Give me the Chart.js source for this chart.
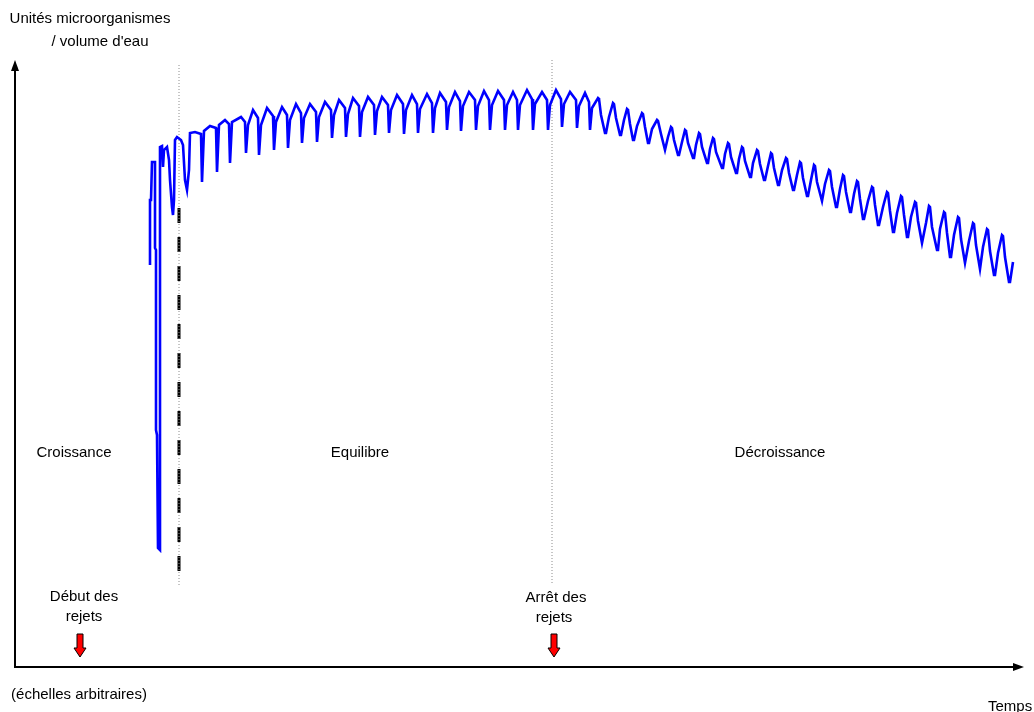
<!DOCTYPE html>
<html>
<head>
<meta charset="utf-8">
<script src="https://cdn.jsdelivr.net/npm/chart.js@4.4.0/dist/chart.umd.min.js"></script>
<style>
html, body { margin: 0; padding: 0; background: #fff; }
#wrap { width: 1034px; height: 712px; position: relative; }
</style>
</head>
<body>
<div id="wrap"><canvas id="chart"></canvas></div>
<script>
// arbitrary units: time 0..100, level 0..61
// start-up transient after the discharge begins
const growthPts = [
    [13.5, 40.2], [13.5, 46.7], [13.6, 46.7], [13.7, 50.5], [14.0, 50.5], [14.0, 41.9],
    [14.1, 41.7], [14.1, 23.7], [14.2, 23.2], [14.3, 11.9], [14.5, 11.7], [14.5, 52.0],
    [14.7, 52.1], [14.8, 50.0], [14.9, 51.7], [15.2, 52.0], [15.4, 50.7], [15.5, 48.7],
    [15.7, 46.0], [15.8, 45.2], [15.9, 46.7], [16.0, 52.7], [16.2, 53.0], [16.6, 52.7],
    [16.8, 52.2], [17.0, 48.7], [17.2, 47.7], [17.4, 49.7], [17.5, 53.4]
];

// one line per daily cycle: peak, shoulder, trough, rebound
const equilibriumPts = [
    [18.0, 53.5], [18.6, 53.3], [18.7, 48.5], [18.9, 53.6],
    [19.5, 54.1], [20.1, 53.9], [20.2, 49.5], [20.4, 54.2],
    [21.0, 54.7], [21.4, 54.3], [21.5, 50.4], [21.7, 54.5],
    [22.6, 55.0], [23.0, 54.5], [23.1, 51.4], [23.3, 54.2],
    [23.8, 55.7], [24.3, 54.9], [24.4, 51.2], [24.6, 54.2],
    [25.2, 55.9], [25.8, 55.1], [25.9, 51.7], [26.1, 54.5],
    [26.7, 56.0], [27.2, 55.2], [27.3, 51.9], [27.5, 54.7],
    [28.1, 56.3], [28.6, 55.4], [28.7, 52.4], [28.9, 54.9],
    [29.5, 56.3], [30.1, 55.5], [30.2, 52.5], [30.4, 55.0],
    [31.0, 56.5], [31.6, 55.7], [31.7, 52.9], [31.9, 55.2],
    [32.4, 56.7], [33.0, 55.9], [33.1, 53.0], [33.3, 55.3],
    [33.8, 56.9], [34.4, 56.1], [34.5, 53.0], [34.7, 55.5],
    [35.3, 57.0], [35.9, 56.2], [36.0, 53.2], [36.2, 55.6],
    [36.7, 57.0], [37.3, 56.2], [37.4, 53.4], [37.6, 55.7],
    [38.2, 57.2], [38.8, 56.3], [38.9, 53.3], [39.1, 55.7],
    [39.7, 57.2], [40.2, 56.3], [40.3, 53.4], [40.5, 55.8],
    [41.2, 57.3], [41.7, 56.4], [41.8, 53.4], [42.0, 55.9],
    [42.5, 57.4], [43.1, 56.5], [43.2, 53.7], [43.4, 56.0],
    [44.0, 57.5], [44.5, 56.6], [44.6, 53.6], [44.8, 56.1],
    [45.4, 57.5], [46.0, 56.7], [46.1, 53.7], [46.3, 56.1],
    [46.9, 57.6], [47.4, 56.7], [47.5, 53.7], [47.7, 56.2],
    [48.3, 57.6], [48.9, 56.7], [49.0, 53.7], [49.2, 56.2],
    [49.8, 57.5], [50.2, 56.7], [50.3, 53.7], [50.5, 56.2],
    [51.2, 57.7], [51.7, 56.8], [51.8, 53.7], [52.0, 56.3],
    [52.7, 57.5], [53.2, 56.7], [53.3, 53.7], [53.5, 56.2],
    [54.1, 57.7], [54.6, 56.8], [54.7, 54.0], [54.9, 56.3],
    [55.5, 57.5], [56.1, 56.7], [56.2, 53.9], [56.4, 56.1],
    [57.0, 57.4], [57.4, 56.5], [57.5, 53.7], [57.7, 55.9]
];

// one line per cycle: peak, peak end, mid descent, trough, trough end, mid rise
const declinePts = [
    [58.3, 56.9], [58.4, 56.8], [58.6, 55.2], [59.0, 53.4], [59.1, 53.4], [59.4, 55.0],
    [59.8, 56.4], [59.9, 56.3], [60.1, 54.9], [60.5, 53.2], [60.6, 53.2], [60.9, 54.7],
    [61.2, 55.8], [61.3, 55.7], [61.5, 54.3], [61.8, 52.7], [61.9, 52.7], [62.2, 54.1],
    [62.7, 55.4], [62.8, 55.3], [63.0, 54.0], [63.3, 52.4], [63.4, 52.4], [63.7, 53.8],
    [64.2, 54.7], [64.3, 54.6], [64.6, 53.3], [65.0, 51.7], [65.1, 51.7], [65.3, 53.0],
    [65.6, 54.0], [65.7, 53.9], [65.9, 52.7], [66.3, 51.2], [66.4, 51.2], [66.7, 52.5],
    [67.0, 53.7], [67.1, 53.6], [67.3, 52.4], [67.8, 50.9], [67.9, 50.9], [68.1, 52.2],
    [68.4, 53.4], [68.5, 53.3], [68.7, 52.0], [69.2, 50.4], [69.3, 50.4], [69.5, 51.8],
    [69.8, 52.9], [69.9, 52.8], [70.1, 51.5], [70.7, 49.9], [70.8, 49.9], [71.0, 51.3],
    [71.3, 52.4], [71.4, 52.3], [71.6, 51.0], [72.1, 49.4], [72.2, 49.4], [72.4, 50.8],
    [72.7, 52.0], [72.8, 51.9], [73.0, 50.6], [73.5, 49.0], [73.6, 49.0], [73.8, 50.4],
    [74.2, 51.7], [74.3, 51.6], [74.5, 50.3], [74.9, 48.7], [75.0, 48.7], [75.3, 50.1],
    [75.6, 51.4], [75.7, 51.3], [75.9, 49.9], [76.3, 48.2], [76.4, 48.2], [76.7, 49.7],
    [77.1, 50.9], [77.2, 50.8], [77.4, 49.4], [77.8, 47.7], [77.9, 47.7], [78.2, 49.2],
    [78.5, 50.5], [78.6, 50.4], [78.8, 48.9], [79.2, 47.1], [79.3, 47.1], [79.6, 48.7],
    [79.9, 50.2], [80.0, 50.1], [80.2, 48.5], [80.7, 46.6], [80.8, 46.6], [81.0, 48.3],
    [81.4, 49.7], [81.5, 49.6], [81.7, 48.0], [82.1, 46.0], [82.2, 46.0], [82.5, 47.8],
    [82.8, 49.2], [82.9, 49.1], [83.1, 47.5], [83.5, 45.5], [83.6, 45.5], [83.9, 47.3],
    [84.2, 48.6], [84.3, 48.5], [84.5, 46.8], [84.8, 44.8], [84.9, 44.8], [85.3, 46.6],
    [85.7, 48.0], [85.8, 47.9], [86.0, 46.2], [86.3, 44.2], [86.4, 44.2], [86.8, 46.0],
    [87.2, 47.5], [87.3, 47.4], [87.5, 45.6], [87.8, 43.5], [87.9, 43.5], [88.2, 45.4],
    [88.6, 47.1], [88.7, 47.0], [88.9, 45.2], [89.2, 43.0], [89.3, 43.0], [89.6, 45.0],
    [90.0, 46.5], [90.1, 46.4], [90.3, 44.6], [90.7, 42.4], [90.8, 42.4], [91.1, 44.4],
    [91.4, 46.1], [91.5, 46.0], [91.7, 44.0], [92.2, 41.7], [92.3, 41.7], [92.5, 43.8],
    [92.9, 45.5], [93.0, 45.4], [93.2, 43.4], [93.5, 41.0], [93.6, 41.0], [93.9, 43.2],
    [94.3, 45.0], [94.4, 44.9], [94.6, 42.8], [95.0, 40.4], [95.1, 40.4], [95.4, 42.6],
    [95.8, 44.4], [95.9, 44.3], [96.1, 42.2], [96.5, 39.8], [96.6, 39.8], [96.8, 42.0],
    [97.2, 43.8], [97.3, 43.7], [97.5, 41.6], [97.9, 39.2], [98.0, 39.2], [98.3, 41.4],
    [98.7, 43.2], [98.8, 43.1], [99.0, 41.0], [99.4, 38.5], [99.5, 38.5], [99.8, 40.5]
];

const phaseNames = ['Croissance', 'Equilibre', 'Décroissance'];
const phaseLimits = [16.4, 53.7];      // start of equilibrium, end of discharge
const dischargeStart = 6.5;
const dischargeStop = 53.9;

const toXY = pts => pts.map(p => ({ x: p[0], y: p[1] }));
const curve = toXY(growthPts.concat(equilibriumPts, declinePts));

function downArrow(ctx, cx, top, bottom) {
    const shaft = 3, head = 6, headH = 9;
    ctx.beginPath();
    ctx.moveTo(cx - shaft, top);
    ctx.lineTo(cx + shaft, top);
    ctx.lineTo(cx + shaft, bottom - headH);
    ctx.lineTo(cx + head, bottom - headH);
    ctx.lineTo(cx, bottom);
    ctx.lineTo(cx - head, bottom - headH);
    ctx.lineTo(cx - shaft, bottom - headH);
    ctx.closePath();
    ctx.fillStyle = '#ff0000';
    ctx.fill();
    ctx.lineWidth = 1;
    ctx.strokeStyle = '#000';
    ctx.stroke();
}

const annotate = {
    id: 'annotate',
    afterDraw(chart) {
        const ctx = chart.ctx;
        const xs = chart.scales.x, ys = chart.scales.y;
        const x0 = xs.getPixelForValue(0);
        const y0 = ys.getPixelForValue(0);
        ctx.save();

        // axes with arrow heads
        ctx.strokeStyle = '#000';
        ctx.fillStyle = '#000';
        ctx.lineWidth = 2;
        ctx.beginPath();
        ctx.moveTo(x0, y0 + 1);
        ctx.lineTo(x0, 70);
        ctx.moveTo(x0 - 1, y0);
        ctx.lineTo(1014, y0);
        ctx.stroke();
        ctx.beginPath();
        ctx.moveTo(x0, 60);
        ctx.lineTo(x0 + 4, 71);
        ctx.lineTo(x0 - 4, 71);
        ctx.closePath();
        ctx.fill();
        ctx.beginPath();
        ctx.moveTo(1024, y0);
        ctx.lineTo(1013, y0 - 4);
        ctx.lineTo(1013, y0 + 4);
        ctx.closePath();
        ctx.fill();

        // texts
        ctx.font = '15px "Liberation Sans", Arial, sans-serif';
        ctx.textAlign = 'center';
        ctx.textBaseline = 'middle';
        ctx.fillStyle = '#000';
        ctx.fillText('Unités microorganismes', 90, 19);
        ctx.fillText('/ volume d\'eau', 100, 42);
        ctx.fillText(phaseNames[0], 74, 453);
        ctx.fillText(phaseNames[1], 360, 453);
        ctx.fillText(phaseNames[2], 780, 453);
        ctx.fillText('Début des', 84, 597);
        ctx.fillText('rejets', 84, 617);
        ctx.fillText('Arrêt des', 556, 598);
        ctx.fillText('rejets', 554, 618);
        ctx.fillText('(échelles arbitraires)', 79, 695);
        ctx.textAlign = 'left';
        ctx.fillText('Temps', 988, 707);

        // red arrows
        downArrow(ctx, xs.getPixelForValue(dischargeStart), 634, 657);
        downArrow(ctx, xs.getPixelForValue(dischargeStop), 634, 657);

        ctx.restore();
    }
};

new Chart(document.getElementById('chart'), {
    type: 'line',
    data: {
        datasets: [
            {
                data: curve,
                borderColor: '#0000ff',
                borderWidth: 2.6,
                pointRadius: 0,
                tension: 0,
                clip: false
            },
            {
                data: [{ x: phaseLimits[0], y: 60.2 }, { x: phaseLimits[0], y: 8.2 }],
                borderColor: '#8c8c8c',
                borderWidth: 1,
                borderDash: [1, 2],
                pointRadius: 0,
                clip: false
            },
            {
                data: [{ x: phaseLimits[1], y: 60.7 }, { x: phaseLimits[1], y: 8.2 }],
                borderColor: '#8c8c8c',
                borderWidth: 1,
                borderDash: [1, 2],
                pointRadius: 0,
                clip: false
            },
            {
                data: [{ x: phaseLimits[0], y: 45.9 }, { x: phaseLimits[0], y: 8.5 }],
                borderColor: '#000',
                borderWidth: 3,
                borderDash: [15, 14],
                pointRadius: 0,
                clip: false
            }
        ]
    },
    options: {
        responsive: true,
        maintainAspectRatio: false,
        animation: false,
        devicePixelRatio: 1,
        layout: { padding: { left: 15, right: 14, top: 57, bottom: 45 } },
        scales: {
            x: { type: 'linear', min: 0, max: 100.5, display: false },
            y: { min: 0, max: 61, display: false }
        },
        plugins: {
            legend: { display: false },
            tooltip: { enabled: false }
        }
    },
    plugins: [annotate]
});
</script>
</body>
</html>
